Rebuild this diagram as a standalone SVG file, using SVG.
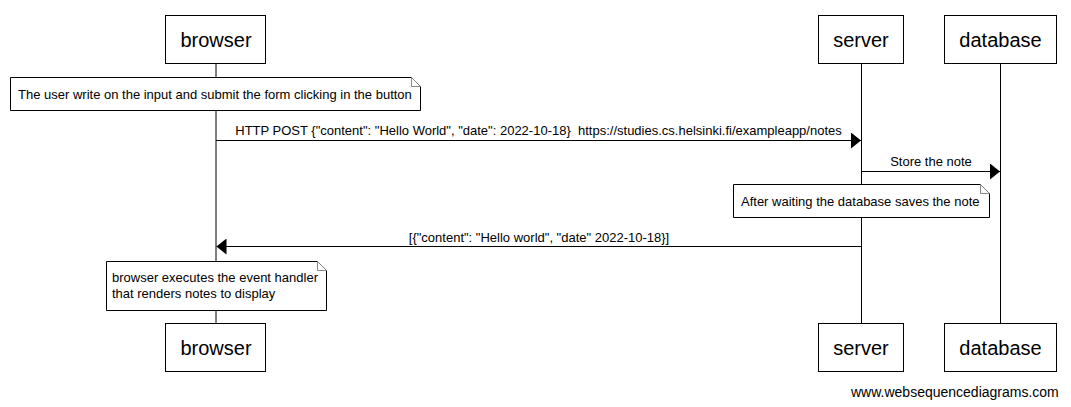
<svg xmlns="http://www.w3.org/2000/svg" width="1071" height="407" viewBox="0 0 1071 407">
<style>
.box{fill:#fff;stroke:#000;stroke-width:1}
.life{stroke:#000;stroke-width:1}
.msg{stroke:#000;stroke-width:1;fill:none}
.note{fill:#fff;stroke:#000;stroke-width:1}
.fold{fill:#fff;stroke:#888;stroke-width:1}
.pt{font-family:"Liberation Sans",Arial,sans-serif;font-size:20px;text-anchor:middle;fill:#000}
.t{font-family:"Liberation Sans",Arial,sans-serif;font-size:13px;fill:#000}
.c{text-anchor:middle}
.wm{font-family:"Liberation Sans",Arial,sans-serif;font-size:14px;fill:#000}
</style>
<defs>
<marker id="ah" markerWidth="10" markerHeight="16" refX="10" refY="8" orient="auto" markerUnits="userSpaceOnUse">
<path d="M0,0 L10,8 L0,16 Z" fill="#000"/>
</marker>
</defs>
<rect width="1071" height="407" fill="#fff"/>
<g id="lifelines">
<line class="life" x1="216" y1="63" x2="216" y2="323"/>
<line class="life" x1="861.5" y1="63" x2="861.5" y2="323"/>
<line class="life" x1="1000.5" y1="63" x2="1000.5" y2="323"/>
</g>
<g id="browser">
<rect class="box" x="165.5" y="15.5" width="100" height="48"/>
<text class="pt" x="216" y="47">browser</text>
<rect class="box" x="165.5" y="323.5" width="100" height="48"/>
<text class="pt" x="216" y="355">browser</text>
</g>
<g id="server">
<rect class="box" x="818.5" y="15.5" width="85" height="48"/>
<text class="pt" x="861" y="47">server</text>
<rect class="box" x="818.5" y="323.5" width="85" height="48"/>
<text class="pt" x="861" y="355">server</text>
</g>
<g id="database">
<rect class="box" x="944.5" y="15.5" width="112" height="48"/>
<text class="pt" x="1000.5" y="47">database</text>
<rect class="box" x="944.5" y="323.5" width="112" height="48"/>
<text class="pt" x="1000.5" y="355">database</text>
</g>
<g id="connectors">
<line class="msg" x1="216" y1="140.5" x2="861" y2="140.5" marker-end="url(#ah)"/>
<text class="t c" x="538.5" y="135" xml:space="preserve">HTTP POST {"content": "Hello World", "date": 2022-10-18}  https://studies.cs.helsinki.fi/exampleapp/notes</text>
<line class="msg" x1="861.5" y1="171.5" x2="1000" y2="171.5" marker-end="url(#ah)"/>
<text class="t c" x="931" y="166">Store the note</text>
<line class="msg" x1="861.5" y1="246.5" x2="216.5" y2="246.5" marker-end="url(#ah)"/>
<text class="t c" x="539" y="242">[{"content": "Hello world", "date" 2022-10-18}]</text>
</g>
<g id="note1">
<path class="note" d="M10.5,77.5 H411.5 L420.5,86.5 V110.5 H10.5 Z"/>
<path class="fold" d="M411.5,77.5 V86.5 H420.5"/>
<text class="t" x="18" y="99">The user write on the input and submit the form clicking in the button</text>
</g>
<g id="note2">
<path class="note" d="M733.5,184.5 H980.5 L989.5,193.5 V217.5 H733.5 Z"/>
<path class="fold" d="M980.5,184.5 V193.5 H989.5"/>
<text class="t" x="741" y="206">After waiting the database saves the note</text>
</g>
<g id="note3">
<path class="note" d="M106.5,261.5 H317.5 L326.5,270.5 V310.5 H106.5 Z"/>
<path class="fold" d="M317.5,261.5 V270.5 H326.5"/>
<text class="t" x="112" y="282">browser executes the event handler</text>
<text class="t" x="112" y="298">that renders notes to display</text>
</g>
<text class="wm" x="851" y="397">www.websequencediagrams.com</text>
</svg>
